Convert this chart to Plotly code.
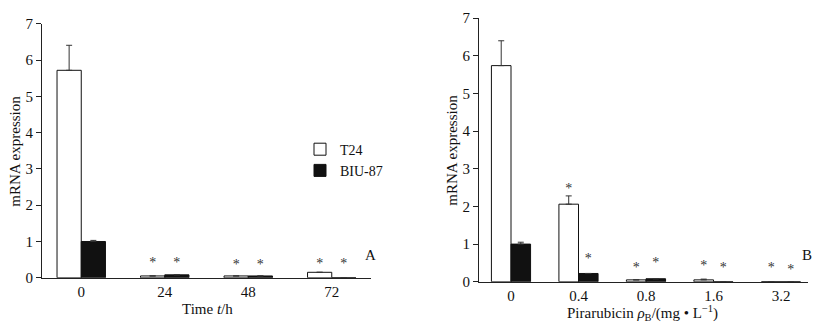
import plotly.graph_objects as go

# ---- data: panel A (time course) ----
time_labels = ["0", "24", "48", "72"]
a_t24 = [5.72, 0.05, 0.05, 0.15]
a_t24_err = [0.69, 0, 0, 0]
a_biu = [1.00, 0.08, 0.05, 0.0]
a_biu_err = [0.03, 0, 0, 0]
a_star_t24 = [None, 0.39, 0.33, 0.37]
a_star_biu = [None, 0.39, 0.33, 0.37]

# ---- data: panel B (dose) ----
dose_labels = ["0", "0.4", "0.8", "1.6", "3.2"]
b_t24 = [5.74, 2.06, 0.05, 0.05, 0.0]
b_t24_err = [0.66, 0.22, 0, 0.02, 0]
b_biu = [1.00, 0.22, 0.08, 0.0, 0.0]
b_biu_err = [0.05, 0, 0, 0, 0]
b_star_t24 = [None, 2.46, 0.35, 0.40, 0.35]
b_star_biu = [None, 0.58, 0.48, 0.35, 0.30]

FONT = "Liberation Serif, Times New Roman, serif"
BW = 0.29
W, H = 819, 330

fig = go.Figure()

def add_panel(labels, t24, t24e, biu, biue, st, sb, xa, ya, showleg):
    idx = list(range(len(labels)))
    fig.add_trace(go.Bar(
        x=idx, y=t24, width=BW, offset=-BW, name="T24",
        marker=dict(color="white", line=dict(color="#111", width=1)),
        error_y=dict(type="data", symmetric=False, array=[e if e else None for e in t24e],
                     arrayminus=[0]*len(t24e), color="#333", thickness=1, width=3),
        xaxis=xa, yaxis=ya, showlegend=showleg, legendgroup="t24"))
    fig.add_trace(go.Bar(
        x=idx, y=biu, width=BW, offset=0, name="BIU-87",
        marker=dict(color="#111", line=dict(color="#111", width=1)),
        error_y=dict(type="data", symmetric=False, array=[e if e else None for e in biue],
                     arrayminus=[0]*len(biue), color="#333", thickness=1, width=3),
        xaxis=xa, yaxis=ya, showlegend=showleg, legendgroup="biu"))
    sx, sy = [], []
    for i in idx:
        if st[i] is not None:
            sx.append(i - BW / 2); sy.append(st[i])
        if sb[i] is not None:
            sx.append(i + BW / 2); sy.append(sb[i])
    fig.add_trace(go.Scatter(
        x=sx, y=sy, mode="text", text=["*"] * len(sx),
        textfont=dict(family=FONT, size=14, color="#333"), textposition="middle center",
        xaxis=xa, yaxis=ya, showlegend=False, hoverinfo="skip"))

add_panel(time_labels, a_t24, a_t24_err, a_biu, a_biu_err, a_star_t24, a_star_biu, "x", "y", True)
add_panel(dose_labels, b_t24, b_t24_err, b_biu, b_biu_err, b_star_t24, b_star_biu, "x2", "y2", False)

def px_x(p):
    return p / W

def px_y(p):
    return (H - p) / H

axis_common = dict(showgrid=False, zeroline=False, showline=True, linecolor="#222", linewidth=1,
                   tickfont=dict(family=FONT, size=15, color="#111"))

fig.update_layout(
    width=W, height=H, margin=dict(l=0, r=0, t=0, b=0),
    paper_bgcolor="white", plot_bgcolor="white", barmode="overlay",
    font=dict(family=FONT, size=15, color="#111"),
    showlegend=True,
    legend=dict(x=px_x(300), y=px_y(132), xanchor="left", yanchor="top",
                font=dict(family=FONT, size=14, color="#111"), bgcolor="rgba(0,0,0,0)",
                itemwidth=30, tracegroupgap=0),
    xaxis=dict(domain=[px_x(42), px_x(371)], range=[-0.47, 3.47], anchor="y",
               tickvals=list(range(len(time_labels))), ticktext=time_labels, ticks="", **axis_common),
    yaxis=dict(domain=[px_y(283.5), px_y(16.7)], range=[0, 7], dtick=1, anchor="x",
               ticks="outside", ticklen=5, tickcolor="#222", **axis_common),
    xaxis2=dict(domain=[px_x(479), px_x(808)], range=[-0.474, 4.4], anchor="y2",
                tickvals=list(range(len(dose_labels))), ticktext=dose_labels, ticks="", **axis_common),
    yaxis2=dict(domain=[px_y(287.7), px_y(10.7)], range=[0, 7], dtick=1, anchor="x2",
                ticks="outside", ticklen=5, tickcolor="#222", **axis_common),
)

ann = [
    dict(text="mRNA expression", x=px_x(15), y=px_y(151), textangle=-90),
    dict(text="mRNA expression", x=px_x(452), y=px_y(150), textangle=-90),
    dict(text="Time <i>t</i>/h", x=px_x(207), y=px_y(316)),
    dict(text="Pirarubicin <i>ρ</i><sub>B</sub>/(mg • L<sup>−1</sup>)", x=px_x(642), y=px_y(321)),
    dict(text="A", x=px_x(370), y=px_y(260)),
    dict(text="B", x=px_x(807), y=px_y(260)),
]
for a in ann:
    fig.add_annotation(xref="paper", yref="paper", showarrow=False,
                       xanchor="center", yanchor="middle",
                       font=dict(family=FONT, size=15, color="#111"), **a)

fig.write_html(
    "out.html",
    config={"displayModeBar": False},
    post_script=("document.documentElement.style.margin='0';"
                 "document.documentElement.style.overflow='hidden';"
                 "document.body.style.margin='0';"
                 "document.body.style.overflow='hidden';"),
)
